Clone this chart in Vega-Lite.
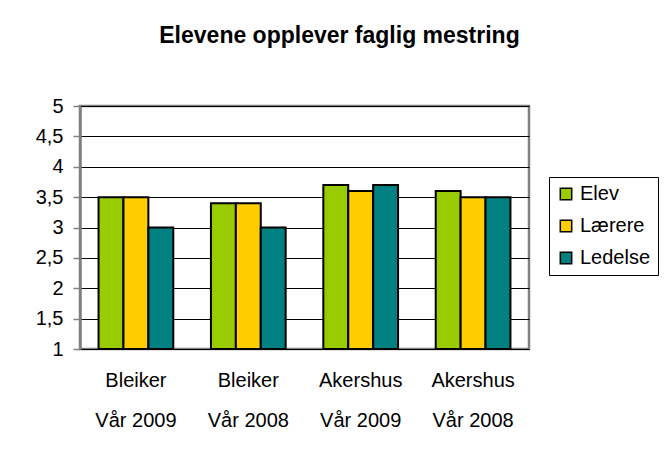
{
  "$schema": "https://vega.github.io/schema/vega-lite/v6.json",
  "width": 449,
  "height": 243,
  "autosize": {"type": "none"},
  "padding": {"left": 80, "top": 106, "right": 136, "bottom": 111},
  "background": "white",
  "title": {
    "text": "Elevene opplever faglig mestring",
    "font": "Liberation Sans",
    "fontSize": 23,
    "fontWeight": "bold",
    "color": "#000",
    "anchor": "middle",
    "baseline": "alphabetic",
    "offset": 30,
    "dx": 35
  },
  "data": {
    "values": [
      {"kategori": "Bleiker\nVår 2009", "serie": "Elev", "verdi": 3.5},
      {"kategori": "Bleiker\nVår 2009", "serie": "Lærere", "verdi": 3.5},
      {"kategori": "Bleiker\nVår 2009", "serie": "Ledelse", "verdi": 3.0},
      {"kategori": "Bleiker\nVår 2008", "serie": "Elev", "verdi": 3.4},
      {"kategori": "Bleiker\nVår 2008", "serie": "Lærere", "verdi": 3.4},
      {"kategori": "Bleiker\nVår 2008", "serie": "Ledelse", "verdi": 3.0},
      {"kategori": "Akershus\nVår 2009", "serie": "Elev", "verdi": 3.7},
      {"kategori": "Akershus\nVår 2009", "serie": "Lærere", "verdi": 3.6},
      {"kategori": "Akershus\nVår 2009", "serie": "Ledelse", "verdi": 3.7},
      {"kategori": "Akershus\nVår 2008", "serie": "Elev", "verdi": 3.6},
      {"kategori": "Akershus\nVår 2008", "serie": "Lærere", "verdi": 3.5},
      {"kategori": "Akershus\nVår 2008", "serie": "Ledelse", "verdi": 3.5}
    ]
  },
  "mark": {"type": "bar", "stroke": "#000", "strokeWidth": 2},
  "encoding": {
    "x": {
      "field": "kategori",
      "type": "nominal",
      "sort": null,
      "scale": {"paddingInner": 0.335, "paddingOuter": 0.165},
      "axis": {
        "title": null,
        "labelAngle": 0,
        "labelExpr": "split(datum.label, '\\n')",
        "labelFont": "Liberation Sans",
        "labelFontSize": 20,
        "labelColor": "#000",
        "labelLineHeight": 40,
        "labelPadding": 21,
        "ticks": false,
        "domain": false,
        "grid": false
      }
    },
    "xOffset": {"field": "serie", "type": "nominal", "sort": ["Elev", "Lærere", "Ledelse"], "scale": {"paddingInner": 0, "paddingOuter": 0}},
    "y": {
      "field": "verdi",
      "type": "quantitative",
      "stack": null,
      "scale": {"domain": [1, 5], "zero": false, "nice": false},
      "axis": {
        "title": null,
        "values": [1, 1.5, 2, 2.5, 3, 3.5, 4, 4.5, 5],
        "labelExpr": "replace(format(datum.value, '.1~f'), '.', ',')",
        "labelFont": "Liberation Sans",
        "labelFontSize": 20,
        "labelColor": "#000",
        "labelPadding": 10,
        "tickColor": "#808080",
        "tickSize": 7,
        "tickWidth": 1.5,
        "domainColor": "#808080",
        "domainWidth": 2.5,
        "grid": true,
        "gridColor": "#000",
        "gridWidth": 1,
        "gridOpacity": 1
      }
    },
    "y2": {"datum": 1},
    "color": {
      "field": "serie",
      "type": "nominal",
      "sort": ["Elev", "Lærere", "Ledelse"],
      "scale": {"domain": ["Elev", "Lærere", "Ledelse"], "range": ["#99CC00", "#FFCC00", "#008080"]},
      "legend": {
        "title": null,
        "orient": "none",
        "legendX": 469,
        "legendY": 71,
        "strokeColor": "#000",
        "fillColor": "#fff",
        "padding": 7,
        "rowPadding": 12,
        "symbolType": "square",
        "symbolSize": 130,
        "symbolStrokeColor": "#000",
        "symbolStrokeWidth": 1.5,
        "symbolOpacity": 1,
        "labelFont": "Liberation Sans",
        "labelFontSize": 20,
        "labelColor": "#000",
        "labelOffset": 4
      }
    }
  },
  "config": {
    "view": {"stroke": "#808080", "strokeWidth": 2.5}
  }
}
